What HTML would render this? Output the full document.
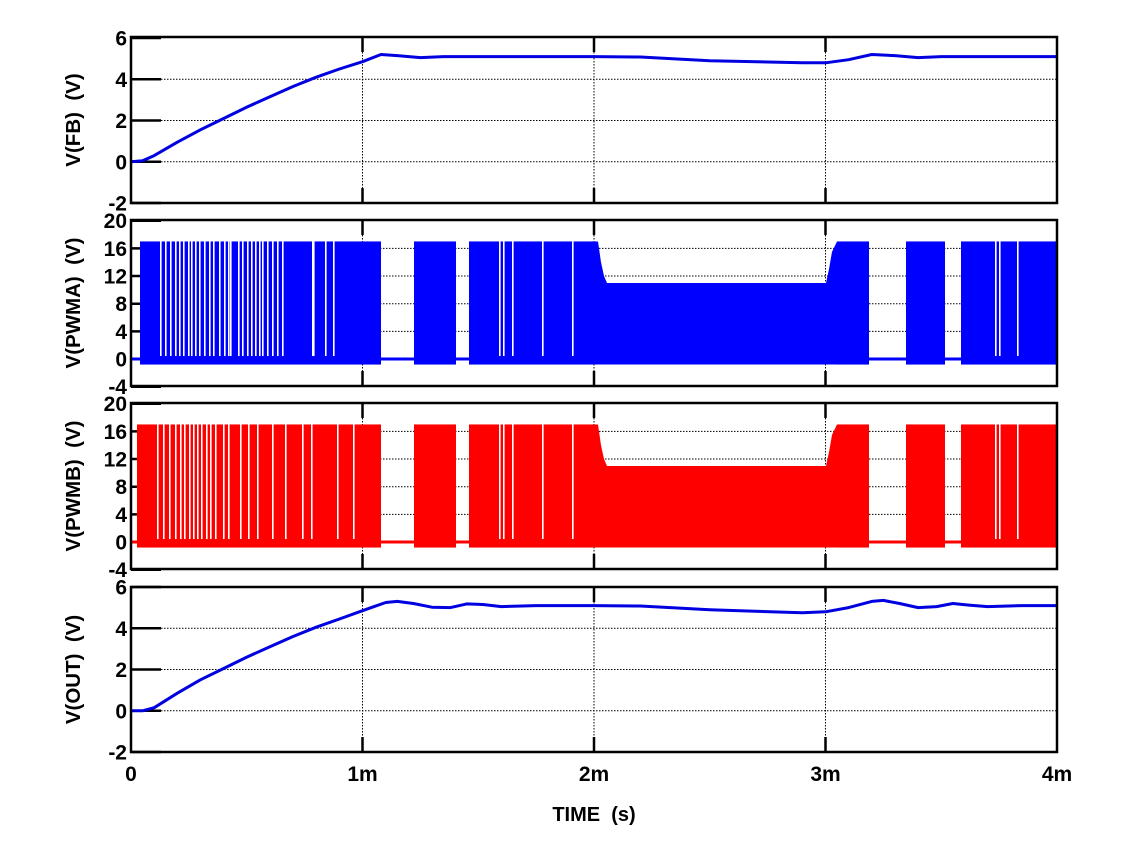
<!DOCTYPE html>
<html><head><meta charset="utf-8"><style>
html,body{margin:0;padding:0;background:#fff;}
svg{display:block;font-family:"Liberation Sans",Arial,sans-serif;font-weight:bold;}
</style></head><body>
<svg id="s" width="1123" height="857" viewBox="0 0 1123 857" xmlns="http://www.w3.org/2000/svg"></svg>
<script>
var S=document.getElementById('s');var h='';
var L=131,R=1057,PX=231.5;
function X(t){return L+PX*t;}
var panels=[
 {top:37,bot:203,vmin:-2,vmax:6.05,ticks:[-2,0,2,4,6],lab:'V(FB)\u00a0\u00a0(V)'},
 {top:220,bot:386,vmin:-3.9,vmax:20.1,ticks:[-4,0,4,8,12,16,20],lab:'V(PWMA)\u00a0\u00a0(V)'},
 {top:403,bot:569,vmin:-3.9,vmax:20.1,ticks:[-4,0,4,8,12,16,20],lab:'V(PWMB)\u00a0\u00a0(V)'},
 {top:587,bot:752,vmin:-2,vmax:6.0,ticks:[-2,0,2,4,6],lab:'V(OUT)\u00a0\u00a0(V)'}];
panels.forEach(function(p){p.Y=function(v){return p.bot-(v-p.vmin)/(p.vmax-p.vmin)*(p.bot-p.top);};});
function pwm(p,col,first,gaps){
 var y17=p.Y(17),y11=p.Y(11),y0=p.Y(0),yb=p.Y(-0.8);
 var segs=[[first,381],[414,456],[469,593],[837,869],[906,945],[961,1056]];
 segs.forEach(function(s){h+='<rect x="'+s[0]+'" y="'+y17+'" width="'+(s[1]-s[0])+'" height="'+(yb-y17)+'" fill="'+col+'"/>';});
 h+='<polygon points="593,'+y17+' 598,'+y17+' 601,'+p.Y(14)+' 604,'+p.Y(12)+' 607,'+y11+' 826,'+y11+' 829,'+p.Y(13)+' 832,'+p.Y(15.5)+' 837,'+y17+' 837,'+yb+' 593,'+yb+'" fill="'+col+'"/>';
 h+='<line x1="'+L+'" x2="1056" y1="'+y0+'" y2="'+y0+'" stroke="'+col+'" stroke-width="3"/>';
 gaps.forEach(function(g){h+='<rect x="'+g+'" y="'+(y17-1)+'" width="1.6" height="'+(y0-y17-2)+'" fill="#fff"/>';});
}
function grid(p){
 p.ticks.forEach(function(v){var y=p.Y(v);
  if(v>p.vmin+0.1&&v<p.vmax-0.5) h+='<line x1="'+(L+30)+'" x2="'+R+'" y1="'+y+'" y2="'+y+'" stroke="#000" stroke-width="1" stroke-dasharray="1.5,1.5"/>';
  h+='<line x1="'+L+'" x2="'+(L+30)+'" y1="'+y+'" y2="'+y+'" stroke="#000" stroke-width="2.5"/>';
 });
 [1,2,3].forEach(function(t){var x=X(t);
  h+='<line x1="'+x+'" x2="'+x+'" y1="'+p.top+'" y2="'+p.bot+'" stroke="#000" stroke-width="1" stroke-dasharray="1.5,1.5"/>';
  h+='<line x1="'+x+'" x2="'+x+'" y1="'+p.top+'" y2="'+(p.top+15)+'" stroke="#000" stroke-width="2.5"/>';
  h+='<line x1="'+x+'" x2="'+x+'" y1="'+(p.bot-15)+'" y2="'+p.bot+'" stroke="#000" stroke-width="2.5"/>';
 });
}
panels.forEach(grid);
var gA=[160,165,170,175,179,183,188,191,195,199,204,209,213,219,224,228,230,238,242,247,251,255,259,262,267,272,277,282,312,313,325,333,
 499,503,512,542,572,995,999,1017];
pwm(panels[1],'#0000ff',140,gA);
var gB=[157,163,169,175,180,184,189,193,197,201,206,210,215,223,228,240,248,257,272,285,302,311,337,353,499,503,512,542,572,995,999,1017];
pwm(panels[2],'#ff0000',137,gB);
function curve(p,pts){var d='';pts.forEach(function(q,i){d+=(i?'L':'M')+X(q[0]).toFixed(1)+','+p.Y(q[1]).toFixed(1);});
 h+='<path d="'+d+'" fill="none" stroke="#0000e0" stroke-width="3" stroke-linejoin="round"/>';}
curve(panels[0],[[0,0],[0.05,0.05],[0.1,0.3],[0.2,0.95],[0.3,1.55],[0.4,2.1],[0.5,2.65],[0.6,3.15],[0.7,3.65],[0.8,4.1],[0.9,4.5],[1.0,4.85],[1.08,5.2],[1.15,5.15],[1.25,5.05],[1.35,5.1],[1.5,5.1],[2,5.1],[2.2,5.08],[2.5,4.9],[2.9,4.8],[3.0,4.8],[3.1,4.95],[3.2,5.2],[3.3,5.15],[3.4,5.05],[3.5,5.1],[4,5.1]]);
curve(panels[3],[[0,0],[0.05,0],[0.1,0.15],[0.2,0.85],[0.3,1.5],[0.4,2.05],[0.5,2.6],[0.6,3.1],[0.7,3.6],[0.8,4.05],[0.9,4.45],[1.0,4.85],[1.05,5.05],[1.1,5.25],[1.15,5.3],[1.22,5.2],[1.3,5.02],[1.38,5.0],[1.45,5.18],[1.52,5.15],[1.6,5.05],[1.75,5.1],[2,5.1],[2.2,5.08],[2.5,4.9],[2.9,4.75],[3.0,4.8],[3.1,5.0],[3.2,5.3],[3.25,5.35],[3.32,5.2],[3.4,5.0],[3.48,5.05],[3.55,5.2],[3.62,5.12],[3.7,5.05],[3.85,5.1],[4,5.1]]);
panels.forEach(function(p){
 h+='<rect x="'+L+'" y="'+p.top+'" width="'+(R-L)+'" height="'+(p.bot-p.top)+'" fill="none" stroke="#000" stroke-width="2.5"/>';
 p.ticks.forEach(function(v){h+='<text x="127" y="'+(p.Y(v)+7.5)+'" font-size="21" text-anchor="end">'+v+'</text>';});
 var cy=(p.top+p.bot)/2;
 h+='<text transform="translate(80,'+cy+') rotate(-90)" font-size="20.5" text-anchor="middle">'+p.lab+'</text>';
});
['0','1m','2m','3m','4m'].forEach(function(s,i){h+='<text x="'+X(i)+'" y="781" font-size="21" text-anchor="middle">'+s+'</text>';});
h+='<text x="594" y="821" font-size="20" text-anchor="middle">TIME\u00a0\u00a0(s)</text>';
S.innerHTML=h;
</script>
</body></html>
